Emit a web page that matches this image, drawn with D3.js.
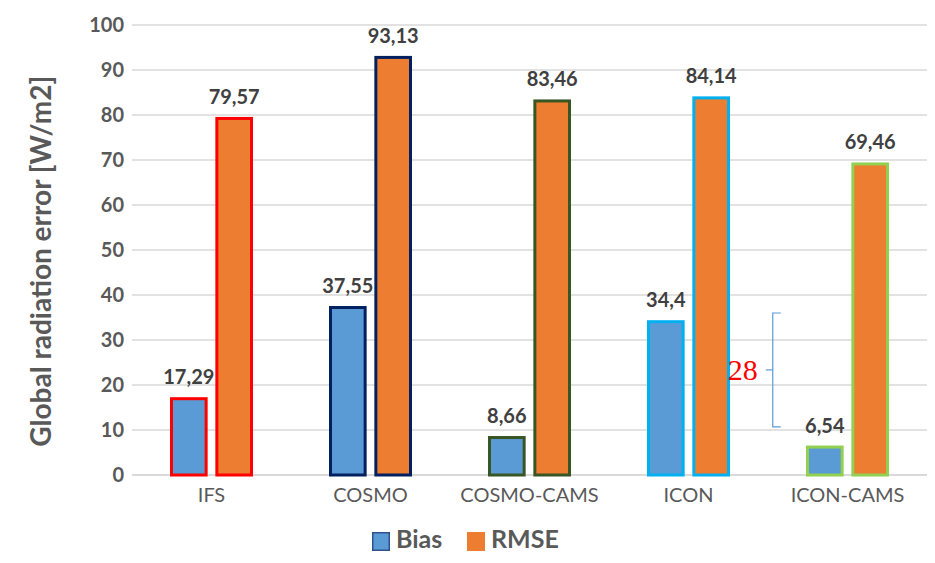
<!DOCTYPE html>
<html lang="en">
<head>
<meta charset="UTF-8">
<script src="https://d3js.org/d3.v7.min.js"></script>
<title>Global radiation error</title>
<style>
  body { margin: 0; background: #fff; }
  text { font-family: Lato, "Open Sans", sans-serif; }
</style>
</head>
<body>
<svg id="chart" width="935" height="563"></svg>
<script>
// data
const models = ["IFS", "COSMO", "COSMO-CAMS", "ICON", "ICON-CAMS"];
const bias = [17.29, 37.55, 8.66, 34.4, 6.54];
const rmse = [79.57, 93.13, 83.46, 84.14, 69.46];
const seriesNames = ["Bias", "RMSE"];
const yTicks = [0, 10, 20, 30, 40, 50, 60, 70, 80, 90, 100];
// annotation (bracket between ICON and ICON-CAMS)
const noteText = "28";
const noteTop = 36;
const noteBottom = 10.7;

const fills = { Bias: "#5B9BD5", RMSE: "#ED7D31" };
const borders = ["#FF0000", "#002060", "#375623", "#00B0F0", "#92D050"];

let svg = d3.select("#chart");

let x = d3.scaleBand().domain(models).range([132, 927]).padding(0);
let inner = d3.scaleBand().domain(seriesNames)
    .range([x.bandwidth() / 2 - 41.5, x.bandwidth() / 2 + 41.5])
    .paddingInner(0.17);
let y = d3.scaleLinear().domain([0, 100]).range([475, 25]);

// gridlines
svg.append("g").selectAll("line")
    .data(yTicks)
    .join("line")
    .attr("x1", 132)
    .attr("x2", 927)
    .attr("y1", d => y(d))
    .attr("y2", d => y(d))
    .attr("stroke", "#D9D9D9")
    .attr("stroke-width", d => d == 0 ? 2 : 1.5);

// y tick labels
svg.append("g").selectAll("text")
    .data(yTicks)
    .join("text")
    .attr("x", 124)
    .attr("y", d => y(d))
    .attr("dy", "0.35em")
    .attr("text-anchor", "end")
    .attr("fill", "#595959")
    .style("font-size", "20px")
    .style("font-weight", "bold")
    .text(d => d);

// y axis title
svg.append("text")
    .attr("transform", "translate(51," + y(47.5) + ") rotate(-90)")
    .attr("text-anchor", "middle")
    .attr("fill", "#595959")
    .style("font-size", "28px")
    .style("font-weight", "bold")
    .text("Global radiation error [W/m2]");

// bars
let rows = [];
models.forEach((m, i) => {
    rows.push({ model: m, series: "Bias", value: bias[i], border: borders[i] });
    rows.push({ model: m, series: "RMSE", value: rmse[i], border: borders[i] });
});

let sw = 3;
svg.append("g").selectAll("rect")
    .data(rows)
    .join("rect")
    .attr("x", d => x(d.model) + inner(d.series) + sw / 2)
    .attr("y", d => y(d.value) + sw / 2)
    .attr("width", inner.bandwidth() - sw)
    .attr("height", d => y(0) - y(d.value) - sw / 2)
    .attr("fill", d => fills[d.series])
    .attr("stroke", d => d.border)
    .attr("stroke-width", sw);

// value labels
svg.append("g").selectAll("text")
    .data(rows)
    .join("text")
    .attr("x", d => x(d.model) + inner(d.series) + inner.bandwidth() / 2)
    .attr("y", d => y(d.value) - 13)
    .attr("text-anchor", "middle")
    .attr("fill", "#404040")
    .style("font-size", "20px")
    .style("font-weight", "bold")
    .text(d => String(d.value).replace(".", ","));

// x labels
svg.append("g").selectAll("text")
    .data(models)
    .join("text")
    .attr("x", d => x(d) + x.bandwidth() / 2)
    .attr("y", 502)
    .attr("text-anchor", "middle")
    .attr("fill", "#595959")
    .style("font-size", "20px")
    .text(d => d);

// bracket annotation
let bx = x("ICON") + x.bandwidth() * 1.03;
let bracket = svg.append("g")
    .attr("stroke", "#5B9BD5")
    .attr("stroke-width", 1.2)
    .attr("fill", "none");
bracket.append("path")
    .attr("d", "M" + (bx + 8) + "," + y(noteTop) + "H" + bx + "V" + y(noteBottom) + "H" + (bx + 8));
let mid = (y(noteTop) + y(noteBottom)) / 2;
bracket.append("line")
    .attr("x1", bx - 7).attr("x2", bx)
    .attr("y1", mid).attr("y2", mid);
svg.append("text")
    .attr("x", bx - 15)
    .attr("y", mid)
    .attr("dy", "0.35em")
    .attr("text-anchor", "end")
    .attr("fill", "#FF0000")
    .style("font-family", "'Liberation Serif', 'DejaVu Serif', serif")
    .style("font-size", "30px")
    .text(noteText);

// legend
let legend = svg.append("g");
let lx = [372, 467];
seriesNames.forEach((s, i) => {
    legend.append("rect")
        .attr("x", lx[i] + 0.75)
        .attr("y", 532.75)
        .attr("width", 16.5)
        .attr("height", 17.5)
        .attr("fill", fills[s])
        .attr("stroke", s == "Bias" ? "#2F528F" : "#ED7D31")
        .attr("stroke-width", 1.5);
    legend.append("text")
        .attr("x", lx[i] + 24)
        .attr("y", 548)
        .attr("fill", "#595959")
        .style("font-size", "25px")
        .style("font-weight", "bold")
        .text(s);
});
</script>
</body>
</html>
